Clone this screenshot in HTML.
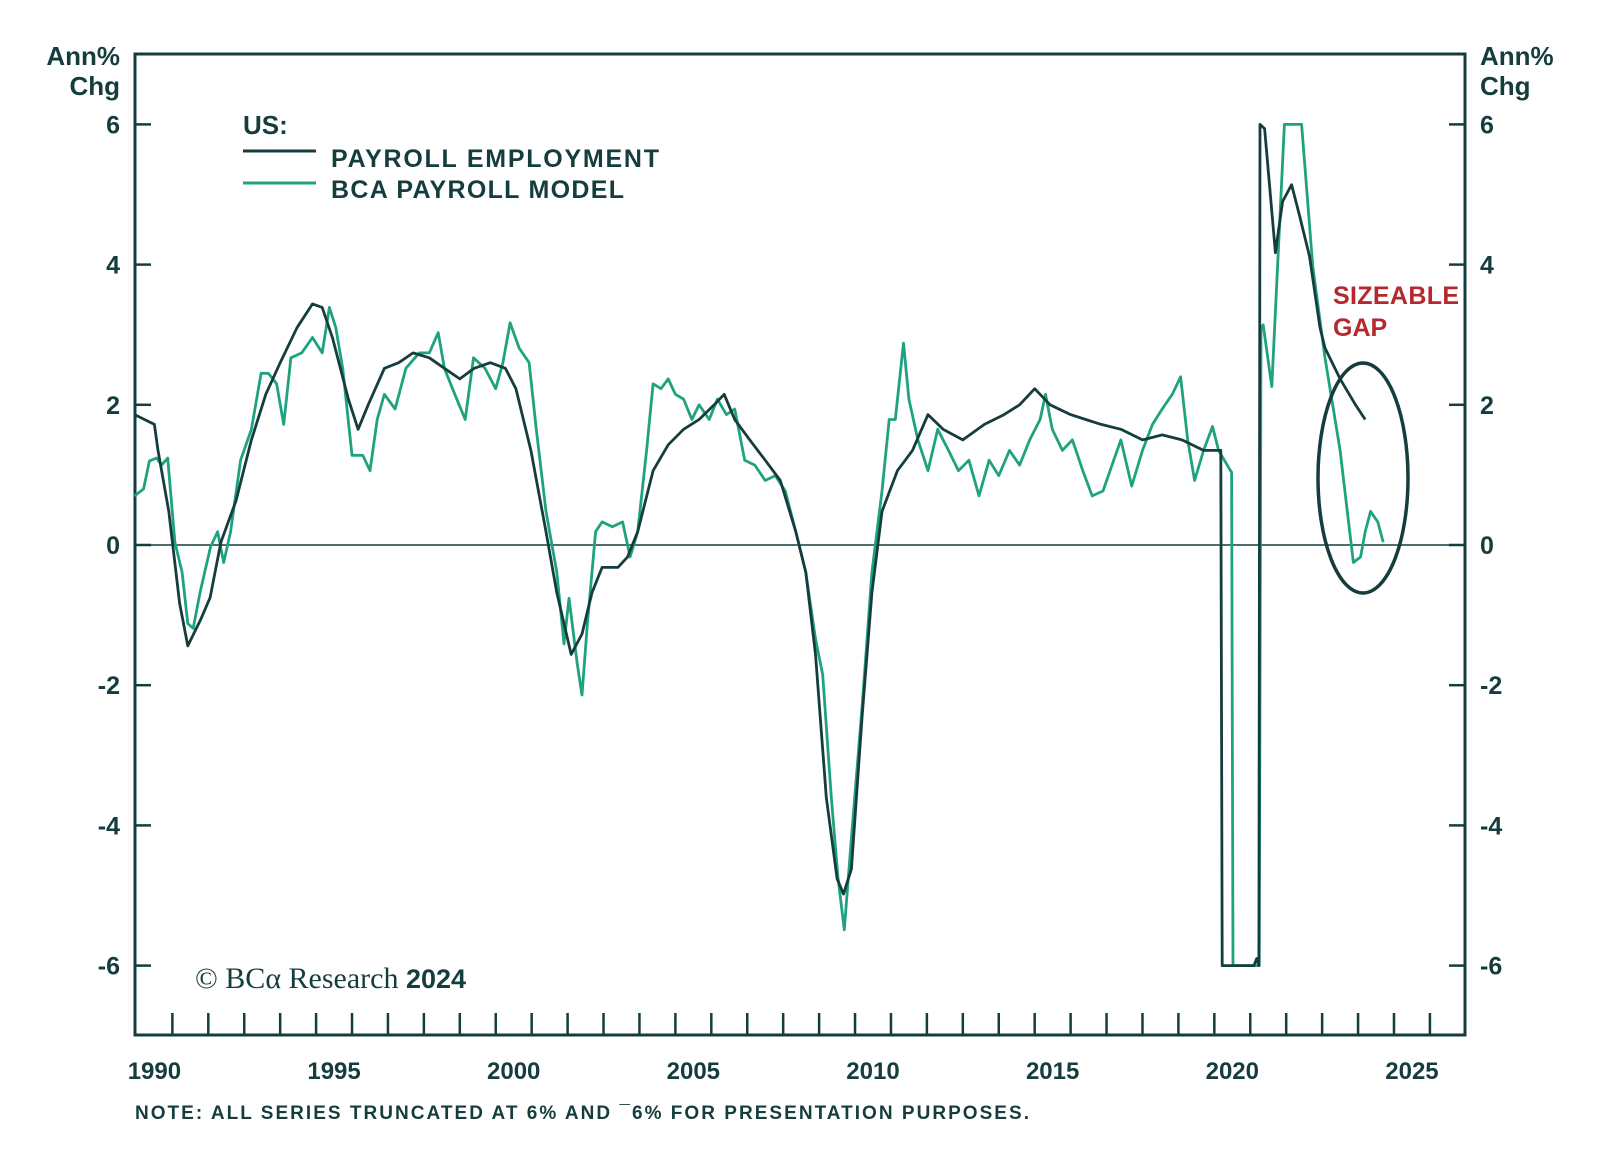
<!DOCTYPE html>
<html><head><meta charset="utf-8"><style>
html,body{margin:0;padding:0;background:#fff;}
svg{display:block;}
text{font-family:"Liberation Sans",sans-serif;fill:#163d3d;}
</style></head><body>
<svg id="chart" width="1600" height="1163" viewBox="0 0 1600 1163">
<g id="axes"></g>
<g id="series"></g>
<g>
<text x="243" y="134" font-size="26" font-weight="bold">US:</text>
<line x1="243" y1="151" x2="316" y2="151" stroke="#163d3d" stroke-width="3"/>
<text x="331" y="167" font-size="25" font-weight="bold" textLength="328">PAYROLL EMPLOYMENT</text>
<line x1="243" y1="183" x2="316" y2="183" stroke="#1fa37e" stroke-width="3"/>
<text x="331" y="198" font-size="25" font-weight="bold" textLength="293">BCA PAYROLL MODEL</text>
</g>
<text x="1333" y="304" font-size="25" font-weight="bold" style="fill:#b5282e" textLength="126">SIZEABLE</text>
<text x="1333" y="336" font-size="25" font-weight="bold" style="fill:#b5282e">GAP</text>
<ellipse cx="1363" cy="478" rx="45" ry="115" fill="none" stroke="#163d3d" stroke-width="3.5"/>
<text x="120" y="65" font-size="26" font-weight="bold" text-anchor="end">Ann%</text>
<text x="120" y="95" font-size="26" font-weight="bold" text-anchor="end">Chg</text>
<text x="1480" y="65" font-size="26" font-weight="bold">Ann%</text>
<text x="1480" y="95" font-size="26" font-weight="bold">Chg</text>
<text x="195" y="988" font-size="30"><tspan style="font-family:'Liberation Serif',serif">© BCα Research </tspan><tspan font-weight="bold" font-size="27">2024</tspan></text>
<text x="135" y="1119" font-size="19" font-weight="bold" textLength="894">NOTE: ALL SERIES TRUNCATED AT 6% AND ¯6% FOR PRESENTATION PURPOSES.</text>
</svg>
<script>
const yTicks=[6,4,2,0,-2,-4,-6];
const xLabels=[1990,1995,2000,2005,2010,2015,2020,2025];
const payYears=[1989.45,1990,1990.1,1990.4,1990.7,1990.93,1991.3,1991.55,1991.85,1992.27,1992.7,1993.1,1993.5,1993.97,1994.4,1994.67,1994.96,1995.4,1995.67,1995.95,1996.4,1996.8,1997.2,1997.65,1998.07,1998.5,1998.9,1999.35,1999.77,2000.06,2000.48,2000.9,2001.2,2001.6,2001.9,2002.18,2002.46,2002.9,2003.17,2003.45,2003.88,2004.3,2004.73,2005.16,2005.58,2005.86,2006.15,2006.57,2007.0,2007.42,2007.85,2008.13,2008.4,2008.7,2009.0,2009.18,2009.4,2009.7,2009.97,2010.25,2010.68,2011.1,2011.53,2011.95,2012.5,2013.1,2013.65,2014.08,2014.5,2014.93,2015.5,2015.92,2016.35,2016.9,2017.5,2018.05,2018.6,2019.2,2019.5,2019.68,2019.72,2020.6,2020.68,2020.74,2020.77,2020.9,2021.2,2021.4,2021.65,2021.87,2022.15,2022.44,2022.58,2023.0,2023.43,2023.7];
const payVals=[1.86,1.72,1.35,0.48,-0.83,-1.44,-1.05,-0.75,0.04,0.63,1.5,2.15,2.6,3.1,3.44,3.39,2.95,2.08,1.65,2.0,2.52,2.6,2.74,2.67,2.52,2.37,2.52,2.6,2.52,2.23,1.35,0.19,-0.68,-1.56,-1.27,-0.68,-0.32,-0.32,-0.17,0.19,1.06,1.43,1.65,1.79,2.0,2.15,1.79,1.5,1.21,0.92,0.19,-0.39,-1.56,-3.6,-4.76,-4.98,-4.62,-2.43,-0.68,0.48,1.06,1.35,1.86,1.65,1.5,1.72,1.86,2.0,2.23,2.0,1.86,1.79,1.72,1.65,1.5,1.57,1.5,1.35,1.35,1.35,-6,-6,-5.9,-6,6,5.94,4.17,4.9,5.14,4.7,4.12,3.1,2.81,2.37,2.0,1.79];
const modYears=[1989.45,1989.7,1989.86,1990.06,1990.2,1990.37,1990.57,1990.77,1990.93,1991.08,1991.27,1991.56,1991.76,1991.93,1992.12,1992.4,1992.7,1992.97,1993.17,1993.4,1993.6,1993.8,1994.1,1994.4,1994.67,1994.87,1995.05,1995.24,1995.5,1995.8,1996.0,1996.2,1996.4,1996.7,1997.0,1997.37,1997.65,1997.9,1998.07,1998.36,1998.65,1998.88,1999.2,1999.5,1999.7,1999.9,2000.15,2000.43,2000.63,2000.9,2001.2,2001.4,2001.54,2001.77,2001.9,2002.05,2002.28,2002.46,2002.75,2003.03,2003.24,2003.45,2003.7,2003.88,2004.1,2004.3,2004.5,2004.73,2004.96,2005.16,2005.44,2005.67,2005.92,2006.15,2006.43,2006.71,2007.0,2007.28,2007.56,2007.85,2008.13,2008.4,2008.6,2008.84,2009.03,2009.2,2009.4,2009.7,2009.97,2010.25,2010.45,2010.62,2010.85,2011.0,2011.25,2011.53,2011.8,2012.1,2012.38,2012.67,2012.95,2013.23,2013.5,2013.8,2014.08,2014.36,2014.65,2014.8,2014.99,2015.27,2015.55,2015.84,2016.1,2016.4,2016.7,2016.9,2017.2,2017.5,2017.78,2018.05,2018.33,2018.56,2018.76,2018.95,2019.2,2019.45,2019.62,2019.95,2019.98,2020.02,2020.75,2020.8,2020.86,2021.1,2021.45,2021.93,2022.24,2022.58,2023.0,2023.2,2023.37,2023.57,2023.7,2023.85,2024.05,2024.2];
const modVals=[0.7,0.8,1.2,1.24,1.14,1.24,0.04,-0.39,-1.12,-1.19,-0.68,-0.03,0.19,-0.25,0.19,1.21,1.65,2.45,2.45,2.3,1.72,2.67,2.74,2.96,2.74,3.39,3.1,2.52,1.28,1.28,1.06,1.79,2.15,1.94,2.52,2.74,2.74,3.03,2.52,2.15,1.79,2.67,2.52,2.23,2.6,3.17,2.81,2.6,1.65,0.48,-0.39,-1.41,-0.76,-1.7,-2.14,-1.12,0.19,0.33,0.26,0.33,-0.17,0.19,1.35,2.3,2.23,2.37,2.15,2.08,1.79,2.0,1.79,2.08,1.86,1.94,1.21,1.14,0.92,0.99,0.77,0.19,-0.39,-1.34,-1.85,-3.6,-4.76,-5.49,-4.18,-2.29,-0.39,0.77,1.79,1.79,2.88,2.08,1.5,1.06,1.65,1.35,1.06,1.21,0.7,1.21,0.99,1.35,1.14,1.5,1.79,2.15,1.65,1.35,1.5,1.06,0.7,0.77,1.21,1.5,0.84,1.35,1.72,1.94,2.15,2.4,1.5,0.92,1.35,1.69,1.35,1.06,1.04,-6,-6,3.1,3.14,2.26,6,6,3.97,2.67,1.35,0.48,-0.25,-0.17,0.19,0.48,0.33,0.04];

const NS='http://www.w3.org/2000/svg';
const L=135,R=1465,T=54,B=1035;
const x=yr=>154.4+(yr-1990)*35.93;
const y=v=>545-v*70.1;
const axes=document.getElementById('axes');
function mk(tag,attrs,parent){const e=document.createElementNS(NS,tag);for(const k in attrs)e.setAttribute(k,attrs[k]);parent.appendChild(e);return e;}
const frame=mk('rect',{x:L,y:T,width:R-L,height:B-T,fill:'none',stroke:'#163d3d','stroke-width':3},axes);


const zl=mk('line',{x1:L,x2:R,y1:y(0),y2:y(0),stroke:'#163d3d','stroke-width':1.5},axes);


yTicks.forEach(v=>{
  const a=mk('line',{x1:L,x2:L+16,y1:y(v),y2:y(v),stroke:'#163d3d','stroke-width':2.5},axes);
  
  
  const b=mk('line',{x1:R-16,x2:R,y1:y(v),y2:y(v),stroke:'#163d3d','stroke-width':2.5},axes);
  
  
  const t1=mk('text',{x:120,y:y(v)+9,'font-size':25,'font-weight':'bold','text-anchor':'end'},axes);
  t1.textContent=v;
  
  
  const t2=mk('text',{x:1480,y:y(v)+9,'font-size':25,'font-weight':'bold'},axes);
  t2.textContent=v;
  
  
});
for(let yr=1990;yr<=2025;yr++){
  const t=mk('line',{x1:x(yr+0.5),x2:x(yr+0.5),y1:B-22,y2:B,stroke:'#163d3d','stroke-width':2.5},axes);
  
  
}
xLabels.forEach(yr=>{
  const t=mk('text',{x:x(yr),y:1079,'font-size':24,'font-weight':'bold','text-anchor':'middle'},axes);
  t.textContent=yr;
  
  
});
const ser=document.getElementById('series');
function line(ys,vs){return ys.map((yr,i)=>(i?'L':'M')+x(yr).toFixed(1)+' '+y(vs[i]).toFixed(1)).join(' ');}
const g=mk('path',{d:line(modYears,modVals),fill:'none',stroke:'#1fa37e','stroke-width':2.8,'stroke-linejoin':'round'},ser);


const d=mk('path',{d:line(payYears,payVals),fill:'none',stroke:'#163d3d','stroke-width':2.8,'stroke-linejoin':'round'},ser);


</script>
</body></html>
